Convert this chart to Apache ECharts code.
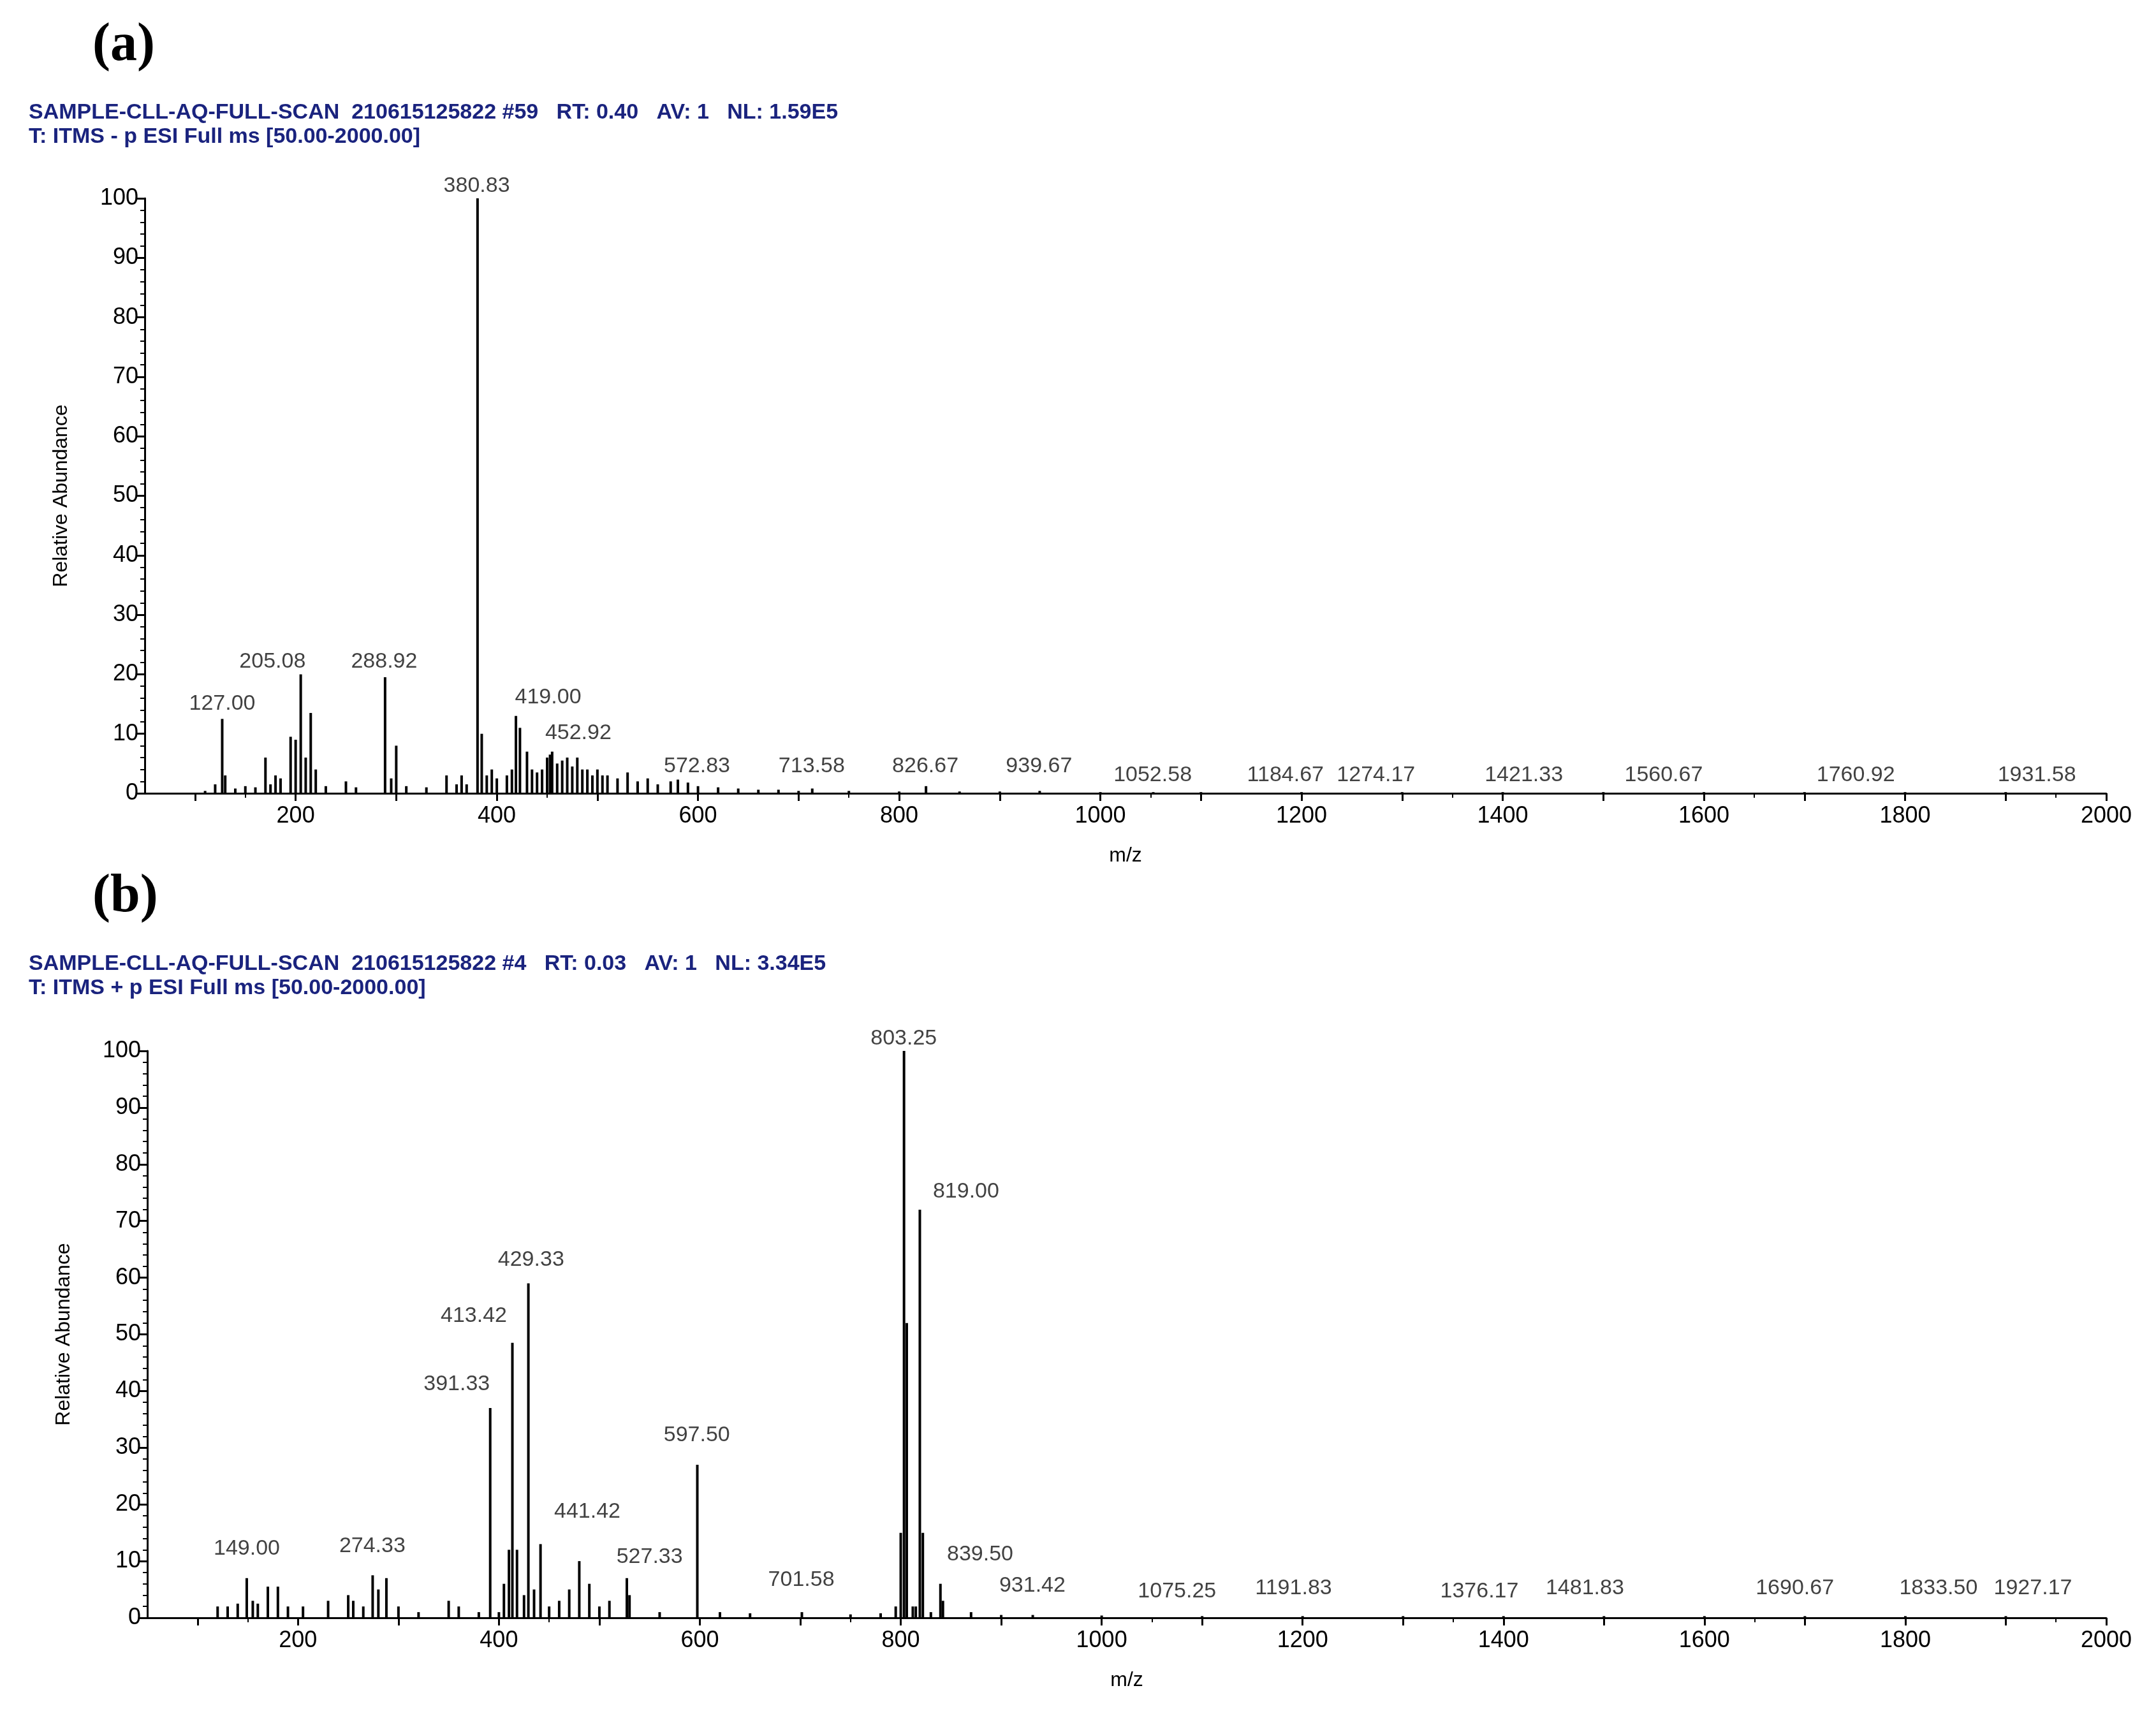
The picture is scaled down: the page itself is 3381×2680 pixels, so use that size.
<!DOCTYPE html>
<html><head><meta charset="utf-8">
<script src="https://cdn.jsdelivr.net/npm/echarts@6/dist/echarts.min.js"></script>
<style>html,body{margin:0;padding:0;background:#fff}#c{width:3381px;height:2680px}</style>
</head><body><div id="c"></div>
<script>
// Panel (a) peaks
const mzA = [110,120,127.00,130,140,150,160,170,175,180,185,195,200,205.08,210,215,220,230,250,260,288.92,295,300,310,330,350,360,365,370,380.83,385,390,395,400,410,415,419.00,423,430,435,440,445,450,452.92,455,460,465,470,475,480,485,490,495,500,505,510,520,530,540,550,560,572.83,580,590,600,620,640,660,680,700,713.58,750,800,826.67,860,900,939.67,1000,1052.58,1100,1200,1300,1400,1500,1600,1700,1800,1900];
const intA = [0.4,1.5,12.5,3,0.8,1.2,1,6,1.5,3,2.5,9.5,9,20,6,13.5,4,1.2,2,1,19.5,2.5,8,1.2,1,3,1.5,3,1.5,100,10,3,4,2.5,3,4,13,11,7,4,3.5,4,6,6.5,7,5,5.5,6,4.5,6,4,4,3,4,3,3,2.5,3.5,2,2.5,1.5,2,2.3,1.8,1.2,1,0.8,0.6,0.6,0.4,0.8,0.4,0.3,1.2,0.3,0.3,0.4,0.2,0.2,0.2,0.2,0.2,0.2,0.2,0.2,0.2,0.2,0.2];
const labMzA = ['127.00','205.08','288.92','380.83','419.00','452.92','572.83','713.58','826.67','939.67','1052.58','1184.67','1274.17','1421.33','1560.67','1760.92','1931.58'];
const labXA = [127,177,288,380,451,481,599,713,826,939,1052,1184,1274,1421,1560,1751,1931];
const labYA = [13,20,20,100,14,8,2.5,2.5,2.5,2.5,1,1,1,1,1,1,1];

// Panel (b) peaks
const mzB = [120,130,140,149.00,155,160,170,180,190,205,230,250,255,265,274.33,280,288,300,320,350,360,380,391.33,400,405,410,413.42,418,425,429.33,435,441.42,450,460,470,480,490,500,510,527.33,530,560,597.50,620,650,701.58,750,780,795,800,803.25,806,812,815,819.00,822,830,839.50,842,870,900,931.42,1000,1100,1200,1300,1400,1500,1600,1700,1800,1900];
const intB = [2,2,2.5,7,3,2.5,5.5,5.5,2,2,3,4,3,2,7.5,5,7,2,1,3,2,1,37,1,6,12,48.5,12,4,59,5,13,2,3,5,10,6,2,3,7,4,1,27,1,0.8,1,0.6,0.8,2,15,100,52,2,2,72,15,1,6,3,1,0.5,0.5,0.4,0.3,0.3,0.3,0.3,0.3,0.3,0.3,0.3,0.3];
const labMzB = ['149.00','274.33','391.33','413.42','429.33','441.42','527.33','597.50','701.58','803.25','819.00','839.50','931.42','1075.25','1191.83','1376.17','1481.83','1690.67','1833.50','1927.17'];
const labXB = [149,274,358,375,432,488,550,597,701,803,865,879,931,1075,1191,1376,1481,1690,1833,1927];
const labYB = [10,10.5,39,51,61,16.5,8.5,30,4.5,100,73,9,3.5,2.5,3,2.5,3,3,3,3];

const xTicks = [100,200,300,400,500,600,700,800,900,1000,1100,1200,1300,1400,1500,1600,1700,1800,1900,2000];
const xLabels = [200,400,600,800,1000,1200,1400,1600,1800,2000];

const F = 'Liberation Sans, Arial, sans-serif';
function xAx(i){return {type:'value',gridIndex:i,min:50,max:2000,name:'m/z',nameLocation:'middle',nameGap:82,
  nameTextStyle:{fontSize:32,color:'#000',fontFamily:F},
  axisLine:{lineStyle:{color:'#000',width:3}},splitLine:{show:false},
  axisTick:{customValues:xTicks,length:12,lineStyle:{color:'#000',width:3}},
  minorTick:{show:true,splitNumber:2,length:7,lineStyle:{color:'#000',width:2}},
  axisLabel:{customValues:xLabels,formatter:v=>String(v),fontSize:36,color:'#000',fontFamily:F,margin:18}};}
function yAx(i){return {type:'value',gridIndex:i,min:0,max:100,interval:10,name:'Relative Abundance',nameLocation:'middle',nameGap:115,
  nameTextStyle:{fontSize:32,color:'#000',fontFamily:F},
  axisLine:{show:true,lineStyle:{color:'#000',width:3}},splitLine:{show:false},
  axisTick:{show:true,length:12,lineStyle:{color:'#000',width:3}},
  minorTick:{show:true,splitNumber:5,length:7,lineStyle:{color:'#000',width:2}},
  axisLabel:{fontSize:36,color:'#000',fontFamily:F,margin:10}};}
function bars(i,mz,it){return {type:'bar',xAxisIndex:i,yAxisIndex:i,barWidth:4,itemStyle:{color:'#000'},
  data:mz.map((m,k)=>[m,it[k]]),silent:true,animation:false};}
function labs(i,ms,xs,ys){return {type:'scatter',xAxisIndex:i,yAxisIndex:i,symbolSize:1,itemStyle:{color:'rgba(0,0,0,0)'},animation:false,
  labelLayout:{hideOverlap:false},
  data:ms.map((m,k)=>({value:[xs[k],ys[k]],label:{formatter:m}})),
  label:{show:true,position:'top',distance:2,fontSize:34,color:'#111',fontFamily:F}};}

const chart = echarts.init(document.getElementById('c'));
const hdr = (x,y,t)=>({type:'text',left:x,top:y,style:{text:t,fontSize:34,fontWeight:'bold',fill:'#1a237e',fontFamily:F}});
chart.setOption({
  backgroundColor:'#fff',
  grid:[{left:227,right:78,top:311,height:933},{left:231,right:78,top:1648,height:889}],
  xAxis:[xAx(0),xAx(1)], yAxis:[yAx(0),yAx(1)],
  series:[bars(0,mzA,intA),labs(0,labMzA,labXA,labYA),bars(1,mzB,intB),labs(1,labMzB,labXB,labYB)],
  graphic:[
    {type:'text',left:145,top:30,style:{text:'(a)',fontSize:84,fontWeight:'bold',fill:'#000',fontFamily:'Liberation Serif, serif'}},
    hdr(45,160,'SAMPLE-CLL-AQ-FULL-SCAN  210615125822 #59   RT: 0.40   AV: 1   NL: 1.59E5'),
    hdr(45,198,'T: ITMS - p ESI Full ms [50.00-2000.00]'),
    {type:'text',left:145,top:1365,style:{text:'(b)',fontSize:84,fontWeight:'bold',fill:'#000',fontFamily:'Liberation Serif, serif'}},
    hdr(45,1495,'SAMPLE-CLL-AQ-FULL-SCAN  210615125822 #4   RT: 0.03   AV: 1   NL: 3.34E5'),
    hdr(45,1533,'T: ITMS + p ESI Full ms [50.00-2000.00]')
  ]
});
</script></body></html>
